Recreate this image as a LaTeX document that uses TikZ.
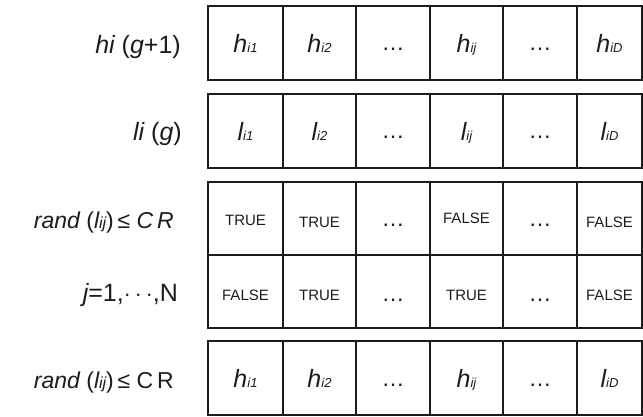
\documentclass[tikz,border=0pt]{standalone}
\usepackage{fontspec}
\setmainfont{Liberation Sans}
% text sizes used in the table
\newcommand\bigtxt{\fontsize{25}{25}\selectfont}
\newcommand\midtxt{\fontsize{23}{23}\selectfont}
\newcommand\dotstxt{\fontsize{23}{23}\selectfont}
\newcommand\booltxt{\fontsize{15}{15}\selectfont}
\newcommand\idx[1]{{\fontsize{13}{13}\selectfont\itshape #1}}
\newcommand\labidx[1]{{\fontsize{16}{16}\selectfont\itshape #1}}
% a cell entry: large italic letter with small italic index
\newcommand\var[2]{{\itshape #1}\idx{#2}}
\definecolor{ink}{HTML}{1C1C1C}
\begin{document}
\begin{tikzpicture}[x=1pt,y=-1pt,
  cellbox/.style={draw=ink, line width=1.3pt, inner sep=0pt},
  entry/.style={anchor=base, inner sep=0pt, text=ink, font=\bigtxt},
  dotsentry/.style={anchor=base, inner sep=0pt, text=ink, font=\dotstxt},
  boolentry/.style={anchor=base, inner sep=0pt, text=ink, font=\booltxt},
  rowlabel/.style={anchor=base east, inner sep=0pt, text=ink, font=\bigtxt}]
\useasboundingbox (0,0) rectangle (643,416);

% grid of cells: five rows of six cells
\foreach \r/\t/\b in {1/6/80, 2/94/168, 3/182/255, 4/255/328, 5/341/415} {
  \foreach \c/\l/\rr in {1/208/283, 2/283/356, 3/356/430, 4/430/503, 5/503/577, 6/577/642} {
    \pgfmathsetmacro\w{\rr-\l}
    \pgfmathsetmacro\h{\b-\t}
    \pgfmathsetmacro\cx{(\l+\rr)/2}
    \pgfmathsetmacro\cy{(\t+\b)/2}
    \node[cellbox, minimum width=\w pt, minimum height=\h pt] (c\r\c) at (\cx,\cy) {};
  }
}

% row labels
\node[rowlabel] (lab1) at (181,53) {{\itshape hi} ({\itshape g}+1)};
\node[rowlabel] (lab2) at (182,140) {{\itshape li} ({\itshape g})};
\node[rowlabel, font=\midtxt] (lab3) at (174,228) {{\itshape rand} ({\itshape l}\labidx{ij})\,≤ {\itshape C\,R}};
\node[rowlabel] (lab4) at (178,301) {{\itshape j}=1,$\cdots$,N};
\node[rowlabel, font=\midtxt] (lab5) at (174,388) {{\itshape rand} ({\itshape l}\labidx{ij})\,≤ C\,R};

% row 1
\node[entry] (e11) at (c11.center |- 0,52) {\var{h}{i1}};
\node[entry] (e12) at (c12.center |- 0,52) {\var{h}{i2}};
\node[dotsentry] (e13) at (c13.center |- 0,50) {…};
\node[entry] (e14) at (c14.center |- 0,52) {\var{h}{ij}};
\node[dotsentry] (e15) at (c15.center |- 0,50) {…};
\node[entry] (e16) at (c16.center |- 0,52) {\var{h}{iD}};

% row 2
\node[entry] (e21) at (c21.center |- 0,140) {\var{l}{i1}};
\node[entry] (e22) at (c22.center |- 0,140) {\var{l}{i2}};
\node[dotsentry] (e23) at (c23.center |- 0,138) {…};
\node[entry] (e24) at (c24.center |- 0,140) {\var{l}{ij}};
\node[dotsentry] (e25) at (c25.center |- 0,138) {…};
\node[entry] (e26) at (c26.center |- 0,140) {\var{l}{iD}};

% row 3
\node[boolentry] (e31) at (c31.center |- 0,225) {TRUE};
\node[boolentry] (e32) at (c32.center |- 0,227) {TRUE};
\node[dotsentry] (e33) at (c33.center |- 0,226) {…};
\node[boolentry] (e34) at (c34.center |- 0,223) {FALSE};
\node[dotsentry] (e35) at (c35.center |- 0,226) {…};
\node[boolentry] (e36) at (c36.center |- 0,227) {FALSE};

% row 4
\node[boolentry] (e41) at (c41.center |- 0,300) {FALSE};
\node[boolentry] (e42) at (c42.center |- 0,300) {TRUE};
\node[dotsentry] (e43) at (c43.center |- 0,301) {…};
\node[boolentry] (e44) at (c44.center |- 0,300) {TRUE};
\node[dotsentry] (e45) at (c45.center |- 0,301) {…};
\node[boolentry] (e46) at (c46.center |- 0,300) {FALSE};

% row 5
\node[entry] (e51) at (c51.center |- 0,387) {\var{h}{i1}};
\node[entry] (e52) at (c52.center |- 0,387) {\var{h}{i2}};
\node[dotsentry] (e53) at (c53.center |- 0,386) {…};
\node[entry] (e54) at (c54.center |- 0,387) {\var{h}{ij}};
\node[dotsentry] (e55) at (c55.center |- 0,386) {…};
\node[entry] (e56) at (c56.center |- 0,387) {\var{l}{iD}};
\end{tikzpicture}
\end{document}
